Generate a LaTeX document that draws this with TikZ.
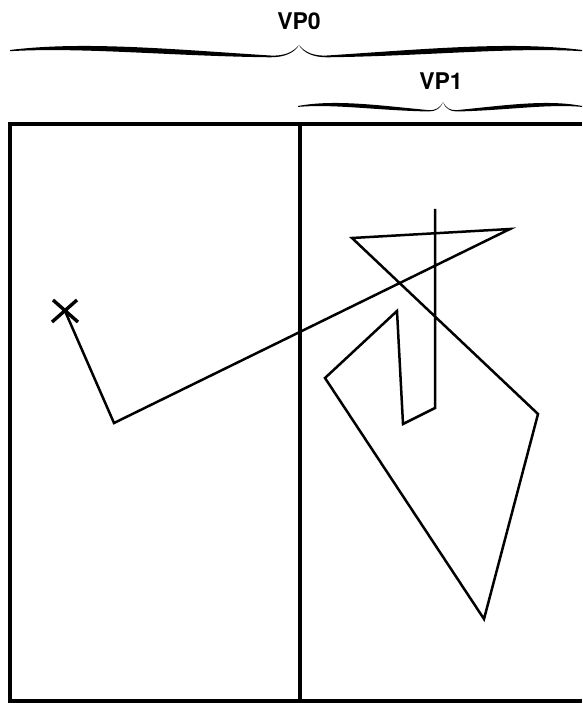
\documentclass[tikz,border=0pt]{standalone}
\usepackage{fontspec}
\setmainfont{TeX Gyre Heros}
\tikzset{
  vplabel/.style={font=\bfseries\fontsize{23}{26}\selectfont},
  frameline/.style={line width=4.2pt},
  pathline/.style={line width=2.5pt,line join=miter}
}
% one arm of a brace, end at (0,0), tip at (100,-5)
\newcommand{\halfbrace}{%
  \fill (0,0) .. controls (25,-9) and (55,-1) .. (90,5.5)
    .. controls (95,6.3) and (98,2) .. (100,-5)
    .. controls (98.6,2.5) and (95,7.5) .. (90,7.3)
    .. controls (55,6) and (25,-3) .. (0,1.2) -- cycle;}
\begin{document}
\begin{tikzpicture}[x=1pt,y=-1pt]
  \useasboundingbox (0,0) rectangle (582,703);
  % viewports
  \draw[frameline] (582,124) -- (10,124) -- (10,701) -- (582,701);
  \draw[frameline] (300,124) -- (300,701);
  % braces
  \begin{scope}[shift={(10,50)},xscale=2.89]\halfbrace\end{scope}
  \begin{scope}[shift={(582,50)},xscale=-2.83]\halfbrace\end{scope}
  \node[vplabel] (vp0) at (299,21) {VP0};
  \begin{scope}[shift={(298,106)},xscale=1.45,yscale=0.75]\halfbrace\end{scope}
  \begin{scope}[shift={(582,106)},xscale=-1.39,yscale=0.75]\halfbrace\end{scope}
  \node[vplabel] (vp1) at (441,81) {VP1};
  % marker at the start point
  \draw[line width=3.4pt] (53,300) -- (78,322) (77,300) -- (52,322);
  % the polyline
  \draw[pathline]
    (65,311) -- (114,423) -- (510,229) -- (352,238) -- (538,414)
    -- (484,619) -- (325,378) -- (397,311) -- (403,424) -- (435,408)
    -- (435,209);
\end{tikzpicture}
\end{document}
